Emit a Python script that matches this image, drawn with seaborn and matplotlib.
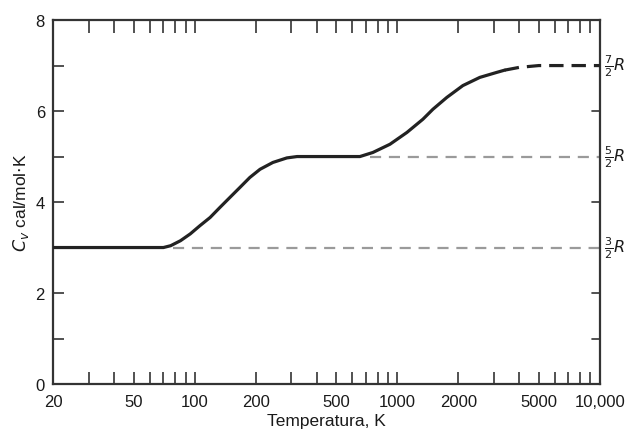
"""
Heat capacity Cv of H2 versus temperature (log scale)
"""

import matplotlib
matplotlib.use('Agg')
import matplotlib.pyplot as plt
import matplotlib.ticker as mticker
import seaborn as sns
import numpy as np
import pandas as pd

sns.set_style('ticks')
plt.rcParams['font.family'] = ['Liberation Sans', 'DejaVu Sans']

# Data
temp_solid = [20, 70, 76, 85, 95, 106, 119, 133, 149, 167, 187, 210, 243, 285,
              320, 415, 654, 758, 920, 1116, 1338, 1500, 1757, 2108, 2557,
              3100, 3396]
cv_solid = [3.0, 3.0, 3.04, 3.15, 3.30, 3.48, 3.66, 3.88, 4.10, 4.32, 4.54,
            4.72, 4.87, 4.97, 5.0, 5.0, 5.0, 5.09, 5.27, 5.53, 5.82, 6.04,
            6.30, 6.56, 6.74, 6.85, 6.90]
temp_dash = [3396, 4000, 5000, 7000, 10000]
cv_dash = [6.90, 6.96, 7.0, 7.0, 7.0]

levels = [3, 5, 7]
level_starts = [78, 730, 3396]
level_labels = [r'$\frac{3}{2}R$', r'$\frac{5}{2}R$', r'$\frac{7}{2}R$']

x_ticks = [20, 50, 100, 200, 500, 1000, 2000, 5000, 10000]
x_labels = ['20', '50', '100', '200', '500', '1000', '2000', '5000', '10,000']
x_minor = [30, 40, 60, 70, 80, 90, 300, 400, 600, 700, 800, 900,
           3000, 4000, 6000, 7000, 8000, 9000]

fig = plt.figure(figsize=(6.34, 4.39), dpi=100)
ax = fig.add_axes([0.084, 0.123, 0.862, 0.829])

solid = pd.DataFrame({'T': temp_solid, 'Cv': cv_solid})
dash = pd.DataFrame({'T': temp_dash, 'Cv': cv_dash})

# reference levels
for lev, start in zip(levels[:2], level_starts[:2]):
    ax.plot([start, 10000], [lev, lev], color='#9a9a9a', lw=1.6,
            dashes=(5, 3.5), zorder=1)

sns.lineplot(data=solid, x='T', y='Cv', ax=ax, color='#222222', lw=2.3, zorder=3)
sns.lineplot(data=dash, x='T', y='Cv', ax=ax, color='#222222', lw=2.3, zorder=3)
ax.lines[-1].set_dashes((4.5, 2.5))
for ln in ax.lines:
    ln.set_solid_joinstyle('round')

ax.set_xscale('log')
ax.set_xlim(20, 10000)
ax.set_ylim(0, 8)

ax.xaxis.set_major_locator(mticker.FixedLocator(x_ticks))
ax.xaxis.set_major_formatter(mticker.FixedFormatter(x_labels))
ax.xaxis.set_minor_locator(mticker.FixedLocator(x_minor))
ax.xaxis.set_minor_formatter(mticker.NullFormatter())
ax.set_yticks([0, 2, 4, 6, 8])
ax.yaxis.set_minor_locator(mticker.FixedLocator([1, 3, 5, 7]))

ax.tick_params(which='both', direction='in', top=True, right=True,
               length=9, width=1.2, color='#333333', labelsize=12,
               labelcolor='#1a1a1a')
ax.tick_params(axis='y', which='both', right=False, length=8, pad=6)
ax.tick_params(axis='x', pad=7)

# right axis ticks + R labels
for y in [1, 2, 4, 6, 8]:
    ax.plot([0.985, 1.0], [y, y], transform=ax.get_yaxis_transform(),
            color='#333333', lw=1.2, clip_on=False)
for lev, lab in zip(levels, level_labels):
    ax.text(1.008, lev, lab, transform=ax.get_yaxis_transform(),
            ha='left', va='center', fontsize=11.5, color='#1a1a1a')

for sp in ax.spines.values():
    sp.set_linewidth(1.6)
    sp.set_color('#333333')

ax.set_xlabel('Temperatura, K', fontsize=12.5, color='#1a1a1a', labelpad=3)
ax.set_ylabel(r'$C_v$ cal/mol$\cdot$K', fontsize=12.5, color='#1a1a1a', labelpad=3)

plt.savefig('out.png', dpi=100)
